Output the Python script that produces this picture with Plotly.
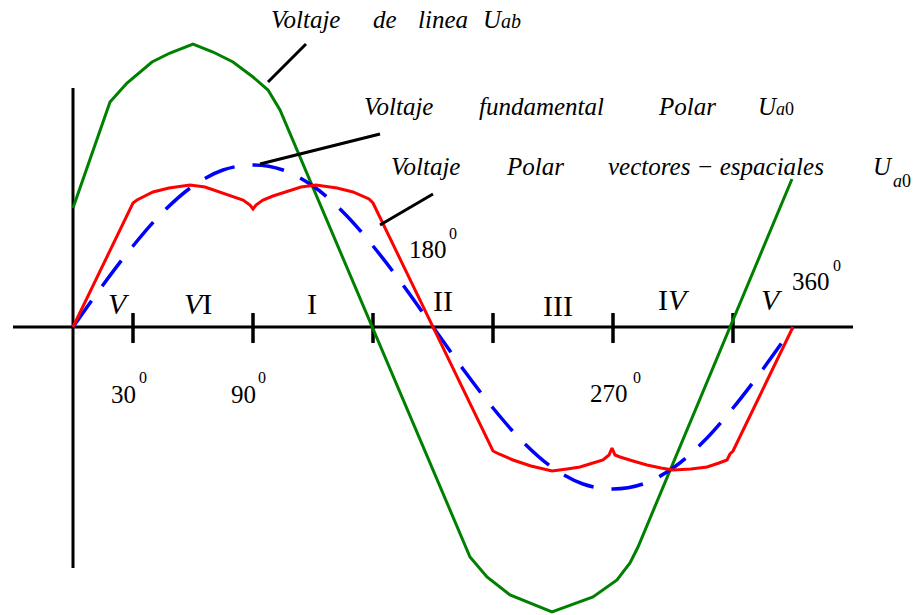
import plotly.graph_objects as go

# ---------------- data (angle in degrees, voltage in drawing units) ----------------
green_deg = [0, 17, 18.5, 27, 39.5, 48.5, 60, 70, 80, 90, 97.5, 103.5,
             196, 198.5, 207, 218.5, 239.5, 260, 272, 278.5, 282.5, 359.5]
green_val = [119, 217, 225, 244, 265, 274, 283, 275, 265, 250, 237, 217,
             -220, -230, -250, -268, -285, -270, -253, -236, -220, 148]

red_deg = [0, 30, 32, 40, 48, 58.5, 66, 73.5, 80, 85, 88.5, 90,
           91.5, 95, 100, 106.5, 114, 121.5, 132, 140, 145, 148, 150,
           210, 213, 220, 229, 239.5, 247, 253.5, 260, 265, 268, 269.5,
           271, 273.5, 280, 287, 294, 300, 309, 317, 323, 327, 328.5, 330, 360]
red_val = [0, 124, 127, 135, 139, 142, 140, 135, 131, 127, 122, 118,
           122, 127, 131, 135, 140, 142, 139, 135, 131, 128, 124,
           -124, -127, -133, -139, -144, -142, -140, -136, -133, -128, -121,
           -128, -130, -134, -138, -141, -143, -142, -140, -136, -133, -127, -124, 0]

blue_deg = [0, 15, 30, 45, 60, 75, 90, 105, 120, 135, 150, 165, 180,
            195, 210, 225, 240, 255, 270, 285, 300, 315, 330, 345, 360]
blue_val = [0, 42, 81, 115, 141, 157, 162, 157, 141, 115, 81, 42, 0,
            -42, -81, -115, -141, -157, -162, -157, -141, -115, -81, -42, 0]

tick_deg = [30, 90, 150, 210, 270, 330]

sector_labels = ["<i>V</i>", "<i>V</i>I", "I", "II", "III", "I<i>V</i>", "<i>V</i>"]
sector_x = [23, 62.5, 119.5, 185, 242.5, 300.5, 349.5]
sector_y = [24, 24, 24, 27, 22, 28, 28]

deg_labels = ["30", "90", "180", "270", "360"]
deg_x = [32, 92, 187.5, 278, 379]
deg_y = [-67.5, -67.5, 77.5, -66.5, 45.5]
deg_sup_x = [32.5, 92, 187.5, 279.5, 379.5]
deg_sup_y = [-50.5, -50.5, 93.5, -50.5, 61.5]

# ---------------- figure ----------------
SERIF = "Liberation Serif"
fig = go.Figure()

fig.add_trace(go.Scatter(x=green_deg, y=green_val, mode="lines",
                         line=dict(color="#008000", width=3), hoverinfo="skip"))
fig.add_trace(go.Scatter(x=blue_deg, y=blue_val, mode="lines",
                         line=dict(color="#0000ff", width=3.5, dash="32px,18px", shape="spline"),
                         hoverinfo="skip"))
fig.add_trace(go.Scatter(x=red_deg, y=red_val, mode="lines",
                         line=dict(color="#ff0000", width=3), hoverinfo="skip"))

shapes = []
blk = dict(color="black", width=3)
# axes
shapes.append(dict(type="line", xref="x", yref="y", x0=-30, x1=390, y0=0, y1=0, line=blk, layer="below"))
shapes.append(dict(type="line", xref="x", yref="y", x0=0, x1=0, y0=239, y1=-241, line=blk, layer="below"))
for t in tick_deg:
    shapes.append(dict(type="line", xref="x", yref="y", x0=t, x1=t, y0=14, y1=-16,
                       line=dict(color="black", width=3.5), layer="below"))
# leader lines
for (a, b, c, d) in [(97.5, 245, 116.5, 283), (93.5, 163, 153.5, 193), (153.5, 102, 180, 133)]:
    shapes.append(dict(type="line", xref="x", yref="y", x0=a, y0=b, x1=c, y1=d, line=blk))

ann = []
def txt(x, y, s, size=25, anchor="left", italic=True):
    ann.append(dict(x=x, y=y, xref="x", yref="y", text=s, showarrow=False,
                    xanchor=anchor, yanchor="middle", borderpad=0,
                    font=dict(family=SERIF, size=size, color="black",
                              style="italic" if italic else "normal")))

# curve labels
txt(98.5, 307.5, "Voltaje")
txt(149.5, 307.5, "de")
txt(172, 307.5, "linea")
txt(204.5, 307.5, "U<span style='font-size:20px'>ab</span>")

txt(145, 220.5, "Voltaje")
txt(202.5, 220.5, "fundamental")
txt(292, 220.5, "Polar")
txt(342, 220.5, "U<span style='font-size:18px'>a</span><span style='font-size:18px;font-style:normal'>0</span>")

txt(158.5, 160.5, "Voltaje")
txt(216, 160.5, "Polar")
txt(267, 160.5, "vectores − espaciales")
txt(399.5, 160.5, "U")
txt(409.5, 146, "a<span style='font-style:normal'>0</span>", size=18)

for s, x, y in zip(sector_labels, sector_x, sector_y):
    txt(x, y, s, size=30, anchor="center", italic=False)
for s, x, y in zip(deg_labels, deg_x, deg_y):
    txt(x, y, s, size=25, anchor="right", italic=False)
for x, y in zip(deg_sup_x, deg_sup_y):
    txt(x, y, "0", size=16, anchor="left", italic=False)

fig.update_layout(
    width=917, height=615,
    margin=dict(l=0, r=0, t=0, b=0),
    paper_bgcolor="white", plot_bgcolor="white",
    showlegend=False,
    xaxis=dict(range=[-36.5, 422], visible=False, fixedrange=True),
    yaxis=dict(range=[-288, 327], visible=False, fixedrange=True),
    shapes=shapes, annotations=ann,
)

fig.write_html("out.html", config={"displayModeBar": False},
               post_script="document.body.style.margin='0';")
